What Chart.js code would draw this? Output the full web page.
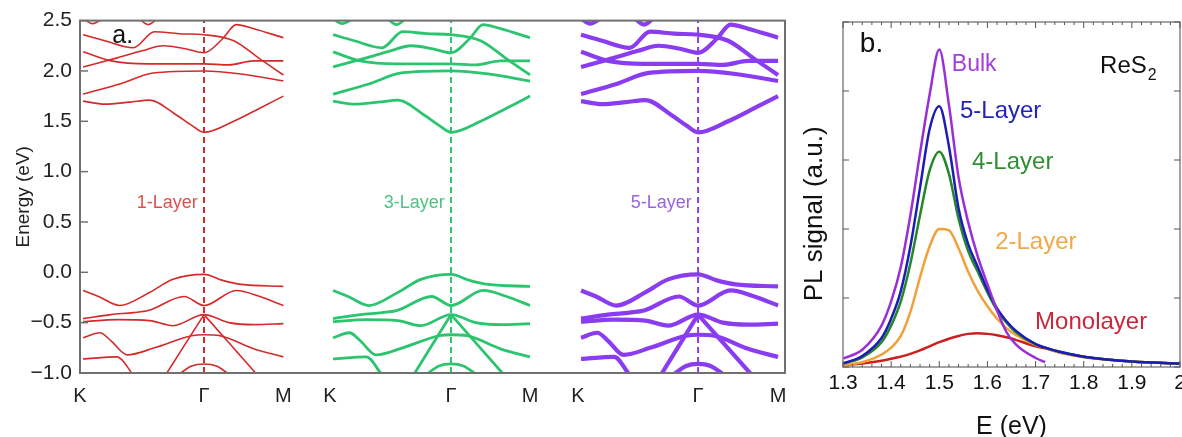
<!DOCTYPE html>
<html>
<head>
<meta charset="utf-8">
<script src="https://cdn.jsdelivr.net/npm/chart.js@4.4.1/dist/chart.umd.min.js"></script>
<style>
  html, body { margin: 0; padding: 0; background: #fff; }
  #wrap { position: relative; width: 1182px; height: 437px; overflow: hidden; }
  #bandBox { position: absolute; left: 0; top: 0; width: 800px; height: 437px; }
  #plBox { position: absolute; left: 790px; top: 0; width: 392px; height: 437px; }
</style>
</head>
<body>
<div id="wrap">
  <div id="bandBox"><canvas id="bandChart"></canvas></div>
  <div id="plBox"><canvas id="plChart"></canvas></div>
</div>
<script>
const FONT = "'Liberation Sans', Arial, Helvetica, sans-serif";

// ================= PANEL a : BAND STRUCTURE =================
// k along the path: 0 = K, 1 = Γ, 1.64 = M
const kLabels = ['K', 'Γ', 'M'];
const kEnd = 1.64;
// where K, Γ, M of each panel sit on the shared x axis
const panelTicks = [[0, 1, 1.64], [2.016, 2.992, 3.629], [4.016, 4.984, 5.629]];
const panelNames = ['1-Layer', '3-Layer', '5-Layer'];

// conduction bands [k, E(eV)]
const condBands = [
  [[0.025, 1.70], [0.2, 1.67], [0.4, 1.69], [0.56, 1.71], [0.78, 1.56], [0.9, 1.46], [1, 1.39], [1.24, 1.50], [1.45, 1.63], [1.64, 1.75]],
  [[0.025, 1.77], [0.32, 1.87], [0.59, 1.98], [1, 2.0], [1.3, 1.97], [1.64, 1.90]],
  [[0.025, 2.04], [0.3, 2.13], [0.5, 2.20], [0.67, 2.25], [0.85, 2.22], [1, 2.18], [1.15, 2.32], [1.26, 2.46], [1.4, 2.42], [1.64, 2.33]],
  [[0.025, 2.19], [0.25, 2.10], [0.55, 2.07], [1, 2.07], [1.2, 2.06], [1.4, 2.10], [1.64, 2.10]],
  [[0.025, 2.36], [0.2, 2.30], [0.43, 2.23], [0.6, 2.39], [0.8, 2.37], [1, 2.36], [1.24, 2.30], [1.45, 2.12], [1.64, 1.96]],
  [[0.025, 2.52], [0.1, 2.47], [0.2, 2.53]],
  [[0.45, 2.55], [0.55, 2.46], [0.65, 2.55]]
];

// valence bands [k, E(eV)]
const valBands = [
  [[0.025, -0.18], [0.15, -0.24], [0.32, -0.33], [0.56, -0.20], [0.75, -0.07], [1, -0.02], [1.15, -0.08], [1.3, -0.12], [1.64, -0.14]],
  [[0.025, -0.46], [0.25, -0.42], [0.43, -0.40], [0.55, -0.38], [0.84, -0.24], [1, -0.33], [1.26, -0.18], [1.45, -0.24], [1.64, -0.33]],
  [[0.025, -0.49], [0.3, -0.47], [0.56, -0.48], [0.75, -0.53], [1, -0.42], [1.2, -0.50], [1.4, -0.52], [1.64, -0.51]],
  [[0.025, -0.65], [0.16, -0.60], [0.25, -0.68], [0.38, -0.82], [0.6, -0.75], [0.9, -0.63], [1, -0.62], [1.13, -0.63], [1.4, -0.76], [1.64, -0.84]],
  [[0.025, -0.86], [0.3, -0.84], [0.43, -1.02]],
  [[0.69, -1.02], [1, -0.42]],
  [[1, -0.42], [1.43, -1.02]],
  [[0.79, -1.02], [0.9, -0.93], [1, -0.91], [1.1, -0.93], [1.21, -1.02]]
];

const panelColors = ['#d32a2a', '#2cc46e', '#8a3cf0'];
const labelColors = ['#e04f4f', '#4cc386', '#9a62e8'];
const bandWidths = [1.6, 2.8, 4.2];

function toAxis(p, k) {
  const [K, G, M] = panelTicks[p];
  return k <= 1 ? K + k * (G - K) : G + (k - 1) / (kEnd - 1) * (M - G);
}

const bandSets = [];
panelTicks.forEach((tk, p) => {
  condBands.concat(valBands).forEach(band => {
    bandSets.push({
      data: band.map(([k, e]) => ({ x: toAxis(p, k), y: e })),
      borderColor: panelColors[p],
      borderWidth: bandWidths[p],
      pointRadius: 0,
      cubicInterpolationMode: 'monotone',
      fill: false
    });
  });
  // dashed line at Γ
  bandSets.push({
    data: [{ x: tk[1], y: -1 }, { x: tk[1], y: 2.5 }],
    borderColor: panelColors[p],
    borderWidth: 2,
    borderDash: [6, 4],
    pointRadius: 0
  });
});

const bandFrame = {
  id: 'bandFrame',
  afterDatasetsDraw(chart) {
    const { ctx, chartArea: a, scales: { x, y } } = chart;
    ctx.save();
    ctx.strokeStyle = '#707070';
    ctx.lineWidth = 2;
    ctx.strokeRect(a.left, a.top, a.right - a.left, a.bottom - a.top);
    ctx.lineWidth = 1.5;
    y.ticks.forEach(t => {
      const py = y.getPixelForValue(t.value);
      ctx.beginPath();
      ctx.moveTo(a.left, py);
      ctx.lineTo(a.left + 8, py);
      ctx.stroke();
    });
    ctx.textBaseline = 'middle';
    ctx.textAlign = 'left';
    ctx.fillStyle = '#111';
    ctx.font = '25px ' + FONT;
    ctx.fillText('a.', x.getPixelForValue(0.26), y.getPixelForValue(2.35));
    ctx.font = '18px ' + FONT;
    ctx.textAlign = 'right';
    panelTicks.forEach((tk, p) => {
      ctx.fillStyle = labelColors[p];
      ctx.fillText(panelNames[p], x.getPixelForValue(tk[1] - 0.05), y.getPixelForValue(0.69));
    });
    ctx.restore();
  }
};

new Chart(document.getElementById('bandChart'), {
  type: 'line',
  data: { datasets: bandSets },
  options: {
    responsive: true,
    maintainAspectRatio: false,
    animation: false,
    layout: { padding: { top: 17, right: 15, left: 0, bottom: 0 } },
    plugins: { legend: { display: false }, tooltip: { enabled: false } },
    scales: {
      x: {
        type: 'linear',
        min: 0,
        max: 5.685,
        grid: { display: false, drawTicks: false },
        border: { display: false },
        afterBuildTicks: s => { s.ticks = panelTicks.flat().map(v => ({ value: v })); },
        ticks: {
          autoSkip: false,
          maxRotation: 0,
          padding: 11,
          color: '#222',
          font: { size: 20, family: FONT },
          callback: (v, i) => kLabels[i % 3]
        },
        afterFit: s => { s.height = 64; s.paddingLeft = 0; s.paddingRight = 0; }
      },
      y: {
        min: -1,
        max: 2.5,
        grid: { display: false, drawTicks: false },
        border: { display: false },
        ticks: {
          stepSize: 0.5,
          padding: 8,
          color: '#222',
          font: { size: 21, family: FONT },
          callback: v => (v < 0 ? '\u2212' : '') + Math.abs(v).toFixed(1)
        },
        title: {
          display: true,
          text: 'Energy (eV)',
          color: '#222',
          font: { size: 19, family: FONT },
          padding: { top: 12, bottom: 0 }
        },
        afterFit: s => { s.width = 80; }
      }
    }
  },
  plugins: [bandFrame]
});

// ================= PANEL b : PL SPECTRA =================
const energyGrid = [1.30, 1.34, 1.38, 1.40, 1.42, 1.44, 1.46, 1.48, 1.50, 1.52, 1.54, 1.56, 1.58, 1.60, 1.62, 1.64, 1.66, 1.70, 1.72, 1.75, 1.80, 1.90, 2.00];
const plBulk   = [0.12, 0.25, 0.60, 0.95, 1.45, 2.20, 3.10, 3.95, 4.60, 3.80, 2.75, 2.10, 1.60, 1.20, 0.82, 0.50, 0.32, 0.13, 0.07, null, null, null, null];
const pl5Layer = [0.05, 0.16, 0.42, 0.70, 1.10, 1.75, 2.60, 3.45, 3.78, 3.20, 2.30, 1.78, 1.45, 1.12, 0.85, 0.66, 0.52, 0.33, 0.28, 0.22, 0.15, 0.08, 0.05];
const pl4Layer = [0.05, 0.14, 0.36, 0.60, 0.95, 1.50, 2.20, 2.85, 3.12, 2.80, 2.15, 1.68, 1.38, 1.08, 0.82, 0.64, 0.50, 0.33, 0.28, 0.22, 0.15, 0.08, 0.05];
const pl2Layer = [0.03, 0.07, 0.18, 0.28, 0.45, 0.80, 1.30, 1.75, 2.00, 1.98, 1.72, 1.38, 1.10, 0.88, 0.70, 0.56, 0.46, 0.32, 0.28, 0.21, 0.14, 0.08, 0.05];
const plMono   = [0.03, 0.05, 0.09, 0.12, 0.15, 0.19, 0.24, 0.30, 0.36, 0.41, 0.45, 0.48, 0.49, 0.48, 0.46, 0.43, 0.39, 0.30, 0.27, 0.21, 0.15, 0.08, 0.05];

const plNames  = ['Bulk', '5-Layer', '4-Layer', '2-Layer', 'Monolayer'];
const plSeries = [plBulk, pl5Layer, pl4Layer, pl2Layer, plMono];
const plColors = ['#9a2fd6', '#1d1db5', '#23882a', '#f2a03a', '#cc1f1f'];
const plTextColors = ['#a040dc', '#2424b8', '#2f8f33', '#f0a848', '#c8283a'];
const plLabelAt = [[1.526, 4.38], [1.543, 3.70], [1.568, 2.96], [1.616, 1.80], [1.699, 0.65]];

const plSets = plSeries.map((s, i) => ({
  label: plNames[i],
  data: energyGrid.map((e, j) => ({ x: e, y: s[j] })).filter(p => p.y !== null),
  borderColor: plColors[i],
  borderWidth: 2.5,
  pointRadius: 0,
  cubicInterpolationMode: 'monotone',
  fill: false
}));

const plFrame = {
  id: 'plFrame',
  afterDatasetsDraw(chart) {
    const { ctx, chartArea: a, scales: { x, y } } = chart;
    const line = (x1, y1, x2, y2) => { ctx.beginPath(); ctx.moveTo(x1, y1); ctx.lineTo(x2, y2); ctx.stroke(); };
    ctx.save();
    ctx.strokeStyle = '#858585';
    ctx.lineWidth = 1.5;
    ctx.strokeRect(a.left, a.top, a.right - a.left, a.bottom - a.top);
    ctx.strokeStyle = '#555';
    ctx.lineWidth = 1;
    for (let i = 0; i <= 35; i++) {
      const px = x.getPixelForValue(1.3 + i * 0.02);
      const len = i % 5 === 0 ? 6 : 3;
      line(px, a.bottom, px, a.bottom - len);
      line(px, a.top, px, a.top + len);
    }
    y.ticks.forEach(t => {
      const py = y.getPixelForValue(t.value);
      line(a.left, py, a.left + 6, py);
      line(a.right, py, a.right - 6, py);
    });

    ctx.textBaseline = 'middle';
    ctx.textAlign = 'left';
    plNames.forEach((n, i) => {
      ctx.fillStyle = plTextColors[i];
      ctx.font = (i === 0 ? '23px ' : '24px ') + FONT;
      ctx.fillText(n, x.getPixelForValue(plLabelAt[i][0]), y.getPixelForValue(plLabelAt[i][1]));
    });
    ctx.fillStyle = '#111';
    ctx.font = '28px ' + FONT;
    ctx.fillText('b.', x.getPixelForValue(1.335), y.getPixelForValue(4.68));
    ctx.font = '24px ' + FONT;
    const rx = x.getPixelForValue(1.834), ry = y.getPixelForValue(4.35);
    ctx.fillText('ReS', rx, ry);
    const w = ctx.measureText('ReS').width;
    ctx.font = '16px ' + FONT;
    ctx.fillText('2', rx + w + 1, ry + 9);

    // y axis title
    ctx.translate(a.left - 28, y.getPixelForValue(2.22));
    ctx.rotate(-Math.PI / 2);
    ctx.textAlign = 'center';
    ctx.font = '26px ' + FONT;
    ctx.fillText('PL signal (a.u.)', 0, 0);
    ctx.restore();
  }
};

new Chart(document.getElementById('plChart'), {
  type: 'line',
  data: { datasets: plSets },
  options: {
    responsive: true,
    maintainAspectRatio: false,
    animation: false,
    layout: { padding: { top: 22, right: 2, left: 0, bottom: 0 } },
    plugins: { legend: { display: false }, tooltip: { enabled: false } },
    scales: {
      x: {
        type: 'linear',
        min: 1.3,
        max: 2.0,
        grid: { display: false, drawTicks: false },
        border: { display: false },
        ticks: {
          stepSize: 0.1,
          padding: 4,
          autoSkip: false,
          maxRotation: 0,
          color: '#111',
          font: { size: 21, family: FONT },
          callback: v => Math.abs(v - 2) < 1e-6 ? '2' : v.toFixed(1)
        },
        title: {
          display: true,
          text: 'E (eV)',
          color: '#111',
          font: { size: 25, family: FONT, lineHeight: 0.8 },
          padding: 0
        },
        afterFit: s => { s.height = 70; s.paddingLeft = 0; s.paddingRight = 0; }
      },
      y: {
        min: 0,
        max: 5,
        grid: { display: false, drawTicks: false },
        border: { display: false },
        ticks: { display: false, stepSize: 1 },
        afterFit: s => { s.width = 53; }
      }
    }
  },
  plugins: [plFrame]
});
</script>
</body>
</html>
